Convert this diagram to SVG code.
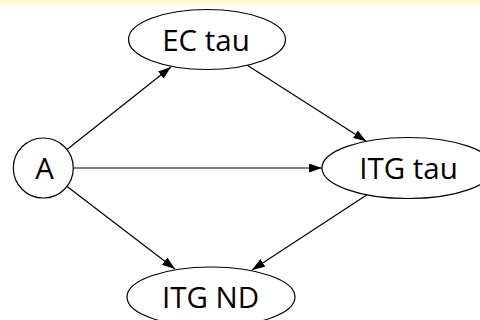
<svg xmlns="http://www.w3.org/2000/svg" width="480" height="320" viewBox="0 0 480 320">
  <style>
    .node { fill: #ffffff; stroke: #000000; stroke-width: 1.2; }
    .label { font-family: "Open Sans", "Noto Sans", sans-serif; font-size: 29.5px; fill: #000000; text-anchor: middle; }
    .edge { stroke: #000000; stroke-width: 1.2; fill: none; marker-end: url(#arrow); }
  </style>
  <defs>
    <marker id="arrow" markerUnits="userSpaceOnUse" markerWidth="14" markerHeight="10" refX="13" refY="4.5" orient="auto">
      <path d="M0,0 L13,4.5 L0,9 z" fill="#000000"/>
    </marker>
  </defs>
  <rect x="0" y="0" width="480" height="320" fill="#ffffff"/>
  <rect x="0" y="0" width="480" height="5" fill="#FEF6DE"/>
  <g id="connectors">
    <line class="edge" x1="67" y1="149.5" x2="171" y2="67"/>
    <line class="edge" x1="247.3" y1="65.3" x2="366.3" y2="141.3"/>
    <line class="edge" x1="73.3" y1="168" x2="322" y2="168"/>
    <line class="edge" x1="66.8" y1="186.3" x2="175" y2="269"/>
    <line class="edge" x1="367" y1="194.8" x2="252" y2="270"/>
  </g>
  <g id="node-A">
    <circle class="node" cx="43.3" cy="168" r="30"/>
    <text class="label" x="44.5" y="178.5">A</text>
  </g>
  <g id="node-EC-tau">
    <ellipse class="node" cx="207" cy="39.5" rx="78.5" ry="30"/>
    <text class="label" x="206" y="50.5">EC tau</text>
  </g>
  <g id="node-ITG-tau">
    <ellipse class="node" cx="408" cy="168" rx="86" ry="30.5"/>
    <text class="label" x="408.5" y="178.5">ITG tau</text>
  </g>
  <g id="node-ITG-ND">
    <ellipse class="node" cx="211" cy="297" rx="84" ry="30"/>
    <text class="label" x="210.5" y="307.5">ITG ND</text>
  </g>
</svg>
